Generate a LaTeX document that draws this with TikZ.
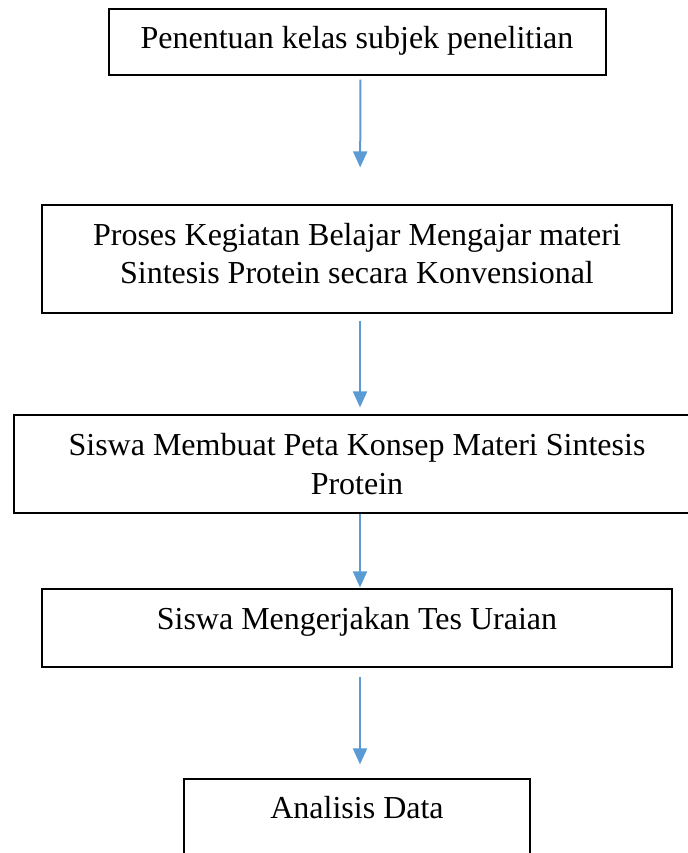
\documentclass[tikz,border=0pt]{standalone}
\usepackage{fontspec}
\setmainfont{Liberation Serif}
\usetikzlibrary{arrows.meta}
\definecolor{arrblue}{HTML}{5B9BD5}
\begin{document}
\begin{tikzpicture}[x=1bp,y=-1bp,
  box/.style={draw=black, line width=1.2bp, inner sep=0pt, fill=none},
  txt/.style={anchor=base, inner sep=0pt, font=\fontsize{32bp}{38bp}\selectfont},
  arr/.style={draw=arrblue, line width=2bp, -{Triangle[width=14bp,length=16bp]}}]
\useasboundingbox (0,0) rectangle (688,853);
\clip (0,0) rectangle (688,853);
\fill[white] (0,0) rectangle (688,853);
\node[box, minimum width=497bp, minimum height=66bp] (b1) at (357.5,42) {};
\node[box, minimum width=630bp, minimum height=108bp] (b2) at (357,259) {};
\node[box, minimum width=686bp, minimum height=98bp] (b3) at (357,464) {};
\node[box, minimum width=630bp, minimum height=78bp] (b4) at (357,628) {};
\node[box, minimum width=346bp, minimum height=102bp] (b5) at (357,830) {};
\node[txt] (t1) at (357,48) {Penentuan kelas subjek penelitian};
\node[txt] (t2a) at (357,245) {Proses Kegiatan Belajar Mengajar materi};
\node[txt] (t2b) at (357,283) {Sintesis Protein secara Konvensional};
\node[txt] (t3a) at (357,455) {Siswa Membuat Peta Konsep Materi Sintesis};
\node[txt] (t3b) at (357,494) {Protein};
\node[txt] (t4) at (357,629) {Siswa Mengerjakan Tes Uraian};
\node[txt] (t5) at (357,818) {Analisis Data};
\draw[arr, shorten <=4bp, shorten >=37bp] ([xshift=3bp]b1.south) -- ([xshift=3bp]b2.north);
\draw[arr, shorten <=7bp, shorten >=7bp] ([xshift=3bp]b2.south) -- ([xshift=3bp]b3.north);
\draw[arr, shorten <=0bp, shorten >=1bp] ([xshift=3bp]b3.south) -- ([xshift=3bp]b4.north);
\draw[arr, shorten <=9bp, shorten >=14bp] ([xshift=3bp]b4.south) -- ([xshift=3bp]b5.north);
\end{tikzpicture}
\end{document}
